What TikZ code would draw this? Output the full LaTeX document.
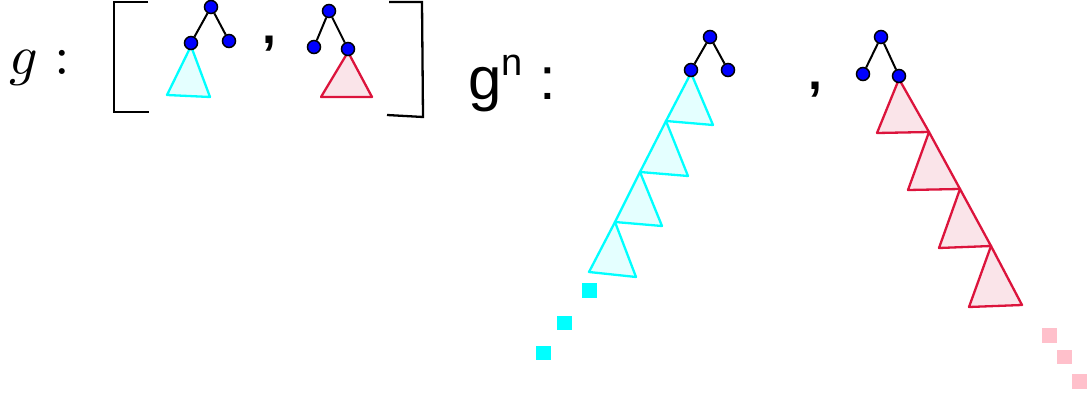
\documentclass[tikz,border=0pt]{standalone}
\usepackage{fontspec}
\newfontfamily\sansf{Liberation Sans}
\definecolor{tcyan}{RGB}{0,255,255}
\definecolor{tcyanfill}{RGB}{228,255,255}
\definecolor{tred}{RGB}{220,20,60}
\definecolor{tredfill}{RGB}{250,228,233}
\definecolor{tpink}{RGB}{255,192,203}
\definecolor{tblue}{RGB}{0,0,255}
\begin{document}
\begin{tikzpicture}[x=1pt,y=-1pt,
  vert/.style={circle,fill=tblue,draw=black,line width=1.5pt,inner sep=0pt,minimum size=13pt},
  edgeline/.style={draw=black,line width=2pt},
  ctri/.style={draw=tcyan,fill=tcyanfill,line width=2.3pt,line join=round},
  rtri/.style={draw=tred,fill=tredfill,line width=2.3pt,line join=round},
  csq/.style={fill=tcyan,minimum size=14.5pt,inner sep=0pt},
  psq/.style={fill=tpink,minimum size=14.5pt,inner sep=0pt},
  brk/.style={draw=black,line width=2.3pt},
  txt/.style={inner sep=0pt,anchor=base},
  commatxt/.style={inner sep=0pt,anchor=base,font=\sansf\bfseries\fontsize{50}{54}\selectfont}
]
\useasboundingbox (0,0) rectangle (1089,396);

% ---------- labels ----------
\node[txt,scale=5.6] (g1) at (24,74) {$g$};
\node[txt,scale=5.6] (c1) at (62,74) {$:$};
\node[commatxt] (cm1) at (269,44) {,};
\node[txt] (g2) at (485,99) {\sansf\fontsize{60}{64}\selectfont g};
\node[txt] (n2) at (512,75) {\sansf\fontsize{38}{40}\selectfont n};
\node[txt] (c2) at (548,99) {\sansf\fontsize{60}{64}\selectfont :};
\node[commatxt] (cm2) at (815,89) {,};

% ---------- brackets ----------
\coordinate (lb1) at (148,2);  \coordinate (lb2) at (114,2);
\coordinate (lb3) at (114,112);\coordinate (lb4) at (149,112);
\draw[brk] (lb1) -- (lb2) -- (lb3) -- (lb4);
\coordinate (rb1) at (389,2);  \coordinate (rb2) at (422,2);
\coordinate (rb3) at (423,117);\coordinate (rb4) at (387,115);
\draw[brk] (rb1) -- (rb2) -- (rb3) -- (rb4);

% ---------- tree positions ----------
\coordinate (A0) at (211,7);  \coordinate (A1) at (191,43); \coordinate (A2) at (229,41);
\coordinate (B0) at (329,11); \coordinate (B1) at (314,47); \coordinate (B2) at (348,49);
\coordinate (C0) at (710,37); \coordinate (C1) at (691,70); \coordinate (C2) at (728,70);
\coordinate (D0) at (881,37); \coordinate (D1) at (863,74); \coordinate (D2) at (899,76);

% ---------- small triangles ----------
\coordinate (At) at (191,46); \coordinate (AL) at (167,95); \coordinate (AR) at (210,97);
\draw[ctri] (At) -- (AL) -- (AR) -- cycle;
\coordinate (Bt) at (348,52); \coordinate (BL) at (321,97); \coordinate (BR) at (372,97);
\draw[rtri] (Bt) -- (BL) -- (BR) -- cycle;

% ---------- cyan chain ----------
\coordinate (Ct) at (691,73);
\coordinate (CL1) at (666,121); \coordinate (CR1) at (713,125);
\coordinate (CL2) at (640,172); \coordinate (CR2) at (688,176);
\coordinate (CL3) at (615,222); \coordinate (CR3) at (662,226);
\coordinate (CL4) at (589,272); \coordinate (CR4) at (636,277);
\draw[ctri] (CL3) -- (CL4) -- (CR4) -- cycle;
\draw[ctri] (CL2) -- (CL3) -- (CR3) -- cycle;
\draw[ctri] (CL1) -- (CL2) -- (CR2) -- cycle;
\draw[ctri] (Ct) -- (CL1) -- (CR1) -- cycle;

% ---------- red chain ----------
\coordinate (Dt) at (899,79);
\coordinate (DL1) at (877,133); \coordinate (DR1) at (929,132);
\coordinate (DL2) at (908,190); \coordinate (DR2) at (960,189);
\coordinate (DL3) at (939,248); \coordinate (DR3) at (991,246);
\coordinate (DL4) at (969,307); \coordinate (DR4) at (1022,305);
\draw[rtri] (DR3) -- (DL4) -- (DR4) -- cycle;
\draw[rtri] (DR2) -- (DL3) -- (DR3) -- cycle;
\draw[rtri] (DR1) -- (DL2) -- (DR2) -- cycle;
\draw[rtri] (Dt) -- (DL1) -- (DR1) -- cycle;

% ---------- dots ----------
\node[csq] (cs1) at (589.5,290.5) {};
\node[csq] (cs2) at (564.5,323) {};
\node[csq] (cs3) at (543.5,353) {};
\node[psq] (ps1) at (1049.5,335.5) {};
\node[psq] (ps2) at (1064.5,357) {};
\node[psq] (ps3) at (1079.5,381.5) {};

% ---------- trees ----------
\foreach \t in {A,B,C,D}{
  \node[vert] (\t r) at (\t0) {};
  \node[vert] (\t a) at (\t1) {};
  \node[vert] (\t b) at (\t2) {};
  \draw[edgeline] (\t r) -- (\t a);
  \draw[edgeline] (\t r) -- (\t b);
}
\end{tikzpicture}
\end{document}
